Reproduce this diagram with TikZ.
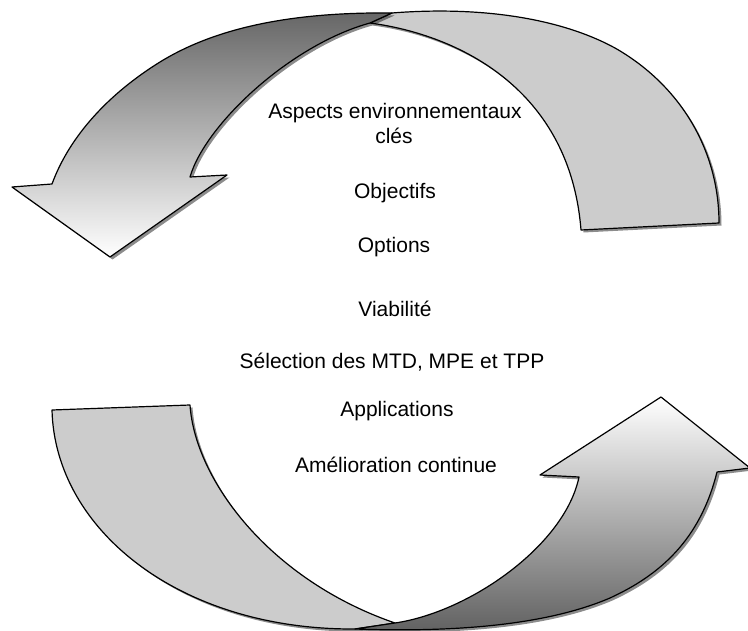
\documentclass[tikz,border=0pt]{standalone}
\usepackage{fontspec}
\setmainfont{Liberation Sans}
\usetikzlibrary{shadows}
\tikzset{
  band/.style={draw=black, line width=1.2pt, line join=round,
    drop shadow={shadow xshift=2.5pt, shadow yshift=-2.5pt, fill=black, opacity=0.45}},
  backband/.style={band, fill=black!20},
  frontdown/.style={band, top color=black!60, bottom color=white},
  frontup/.style={band, top color=white, bottom color=black!62},
  lbl/.style={font=\fontsize{21}{25}\selectfont, anchor=base, inner sep=0pt}
}
\begin{document}
\begin{tikzpicture}[x=1pt,y=-1pt]
\useasboundingbox (0,0) rectangle (748,631);
% crossing points
\coordinate (tp) at (392,13);
\coordinate (tj) at (370,23);
\coordinate (bq) at (355,629);
\coordinate (bj) at (395,623);
% top arrow, back (flat grey) part
\path[backband] (tp) .. controls (480,6) and (560,18) .. (615,48)
  .. controls (680,85) and (719,150) .. (719,223)
  -- (581,230)
  .. controls (570,90) and (460,35) .. (tj) -- cycle;
% top arrow, front (shaded) part
\path[frontdown] (tp) .. controls (300,12) and (220,25) .. (160,62)
  .. controls (110,93) and (70,135) .. (52,184)
  -- (12,187) -- (110,257) -- (227,175) -- (190,177)
  .. controls (205,125) and (290,45) .. (tj) -- cycle;
% bottom arrow, back (flat grey) part
\path[backband] (52,410) -- (190,405)
  .. controls (195,480) and (270,580) .. (bj) -- (bq)
  .. controls (180,630) and (55,530) .. (52,410) -- cycle;
% bottom arrow, front (shaded) part
\path[frontup] (bq) -- (bj)
  .. controls (470,612) and (565,545) .. (579,477)
  -- (540,475) -- (661,397) -- (750,468) -- (717,472)
  .. controls (700,540) and (660,575) .. (610,598)
  .. controls (540,628) and (440,632) .. (bq) -- cycle;
% texts
\node[lbl] (aspects) at (395,119) {Aspects environnementaux};
\node[lbl] (cles) at (394,144) {clés};
\node[lbl] (objectifs) at (395,199) {Objectifs};
\node[lbl] (options) at (394,253) {Options};
\node[lbl] (viabilite) at (395,317) {Viabilité};
\node[lbl] (selection) at (392,369) {Sélection des MTD, MPE et TPP};
\node[lbl] (applications) at (397,417) {Applications};
\node[lbl] (amelioration) at (396,472) {Amélioration continue};
\end{tikzpicture}
\end{document}
